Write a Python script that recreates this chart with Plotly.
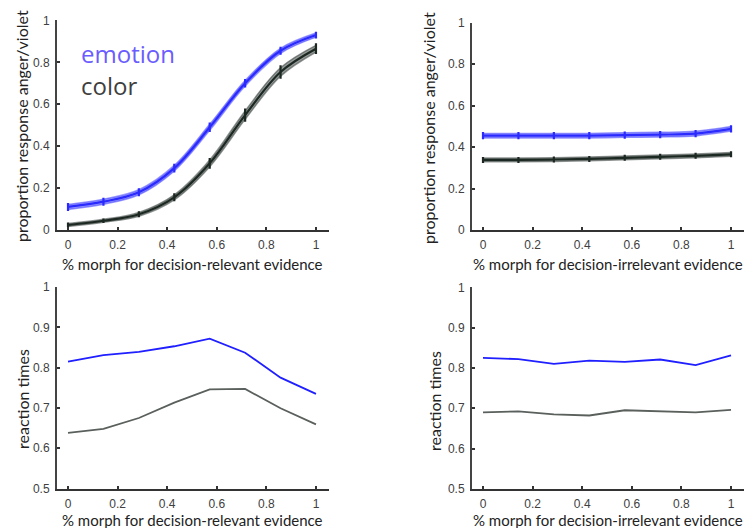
import plotly.graph_objects as go

# ---- data ----
morph = [0, 1/7, 2/7, 3/7, 4/7, 5/7, 6/7, 1]

# top-left: proportion response vs decision-relevant evidence
prop_rel_emotion = [0.11, 0.135, 0.18, 0.295, 0.49, 0.70, 0.855, 0.93]
prop_rel_color = [0.024, 0.044, 0.075, 0.156, 0.318, 0.548, 0.754, 0.865]
sem_rel_emotion = [0.012, 0.012, 0.012, 0.013, 0.014, 0.013, 0.012, 0.01]
sem_rel_color = [0.007, 0.007, 0.009, 0.012, 0.016, 0.02, 0.02, 0.016]

# top-right: proportion response vs decision-irrelevant evidence
prop_irr_emotion = [0.455, 0.455, 0.455, 0.455, 0.458, 0.46, 0.465, 0.488]
prop_irr_color = [0.338, 0.338, 0.34, 0.343, 0.348, 0.353, 0.358, 0.365]
sem_irr_emotion = [0.011] * 8
sem_irr_color = [0.009] * 8

# bottom-left: reaction times vs decision-relevant evidence
rt_rel_emotion = [0.815, 0.831, 0.839, 0.853, 0.872, 0.837, 0.775, 0.735]
rt_rel_color = [0.638, 0.648, 0.675, 0.713, 0.746, 0.747, 0.699, 0.659]

# bottom-right: reaction times vs decision-irrelevant evidence
rt_irr_emotion = [0.825, 0.822, 0.81, 0.818, 0.815, 0.821, 0.807, 0.831]
rt_irr_color = [0.690, 0.692, 0.685, 0.682, 0.695, 0.692, 0.690, 0.696]

x_ticks = [0, 0.2, 0.4, 0.6, 0.8, 1]
x_ticklabels = ["0", "0.2", "0.4", "0.6", "0.8", "1"]
prop_ticks = [0, 0.2, 0.4, 0.6, 0.8, 1]
prop_ticklabels = ["0", "0.2", "0.4", "0.6", "0.8", "1"]
rt_ticks = [0.5, 0.6, 0.7, 0.8, 0.9, 1]
rt_ticklabels = ["0.5", "0.6", "0.7", "0.8", "0.9", "1"]

BLUE = "#2a2aff"
BLUE_BAND = "rgba(70,70,255,0.55)"
DARK = "#1c2822"
DARK_BAND = "rgba(60,70,65,0.55)"

fig = go.Figure()


def banded(xa, ya, y, sem, line_color, band_color):
    upper = [v + s for v, s in zip(y, sem)]
    lower = [v - s for v, s in zip(y, sem)]
    fig.add_trace(go.Scatter(x=morph, y=upper, xaxis=xa, yaxis=ya, mode="lines",
                             line=dict(color=band_color, width=1.5, shape="spline"),
                             showlegend=False, hoverinfo="skip"))
    fig.add_trace(go.Scatter(x=morph, y=lower, xaxis=xa, yaxis=ya, mode="lines",
                             line=dict(color=band_color, width=1.5, shape="spline"),
                             fill="tonexty", fillcolor=band_color,
                             showlegend=False, hoverinfo="skip"))
    fig.add_trace(go.Scatter(x=morph, y=y, xaxis=xa, yaxis=ya, mode="lines",
                             line=dict(color=line_color, width=2.2, shape="spline"),
                             error_y=dict(type="data", array=[s * 1.6 for s in sem],
                                          color=line_color, thickness=2.2, width=0),
                             showlegend=False))


banded("x", "y", prop_rel_emotion, sem_rel_emotion, BLUE, BLUE_BAND)
banded("x", "y", prop_rel_color, sem_rel_color, DARK, DARK_BAND)
banded("x2", "y2", prop_irr_emotion, sem_irr_emotion, BLUE, BLUE_BAND)
banded("x2", "y2", prop_irr_color, sem_irr_color, DARK, DARK_BAND)

fig.add_trace(go.Scatter(x=morph, y=rt_rel_emotion, xaxis="x3", yaxis="y3", mode="lines",
                         line=dict(color="#1f1fff", width=1.8), showlegend=False))
fig.add_trace(go.Scatter(x=morph, y=rt_rel_color, xaxis="x3", yaxis="y3", mode="lines",
                         line=dict(color="#5a605c", width=1.8), showlegend=False))
fig.add_trace(go.Scatter(x=morph, y=rt_irr_emotion, xaxis="x4", yaxis="y4", mode="lines",
                         line=dict(color="#1f1fff", width=1.8), showlegend=False))
fig.add_trace(go.Scatter(x=morph, y=rt_irr_color, xaxis="x4", yaxis="y4", mode="lines",
                         line=dict(color="#5a605c", width=1.8), showlegend=False))

tickfont = dict(family="Liberation Sans", size=12, color="#404040")
xr = [-0.0444, 1.0524]


def xax(domain, anchor):
    return dict(domain=domain, anchor=anchor, range=xr, tickvals=x_ticks,
                ticktext=x_ticklabels, showline=True, linecolor="#333333", linewidth=2,
                ticks="inside", ticklen=3, tickwidth=2, tickcolor="#333333",
                showgrid=False, zeroline=False, tickfont=tickfont,
                ticklabelstandoff=3, automargin=False)


def yax(domain, anchor, rng, tv, tt):
    return dict(domain=domain, anchor=anchor, range=rng, tickvals=tv, ticktext=tt,
                showline=True, linecolor="#444444", linewidth=2,
                ticks="inside", ticklen=3, tickwidth=2, tickcolor="#333333",
                showgrid=False, zeroline=False, tickfont=tickfont,
                ticklabelstandoff=3, automargin=False)


fig.update_layout(
    width=748, height=528,
    margin=dict(l=0, r=0, t=0, b=0),
    paper_bgcolor="white", plot_bgcolor="white",
    showlegend=False,
    xaxis=xax([0.0762, 0.4398], "y"),
    xaxis2=xax([0.631, 0.9947], "y2"),
    xaxis3=xax([0.0762, 0.4398], "y3"),
    xaxis4=xax([0.631, 0.9947], "y4"),
    yaxis=yax([0.5644, 0.9614], "x", [0, 1], prop_ticks, prop_ticklabels),
    yaxis2=yax([0.5644, 0.957], "x2", [0, 1], prop_ticks, prop_ticklabels),
    yaxis3=yax([0.0748, 0.4564], "x3", [0.5, 1], rt_ticks, rt_ticklabels),
    yaxis4=yax([0.0742, 0.4557], "x4", [0.5, 1], rt_ticks, rt_ticklabels),
)

title_font = dict(family="Lato", size=15, color="#222222")
ytitle_font = dict(family="Lato", size=16, color="#222222")
ann = []
# y titles
for x, y, t in [(0.0294, 0.7614, "proportion response anger/violet"),
                (0.5735, 0.7576, "proportion response anger/violet"),
                (0.0294, 0.2443, "reaction times"),
                (0.5802, 0.2405, "reaction times")]:
    ann.append(dict(x=x, y=y, xref="paper", yref="paper", text=t, showarrow=False,
                    textangle=-90, font=ytitle_font, xanchor="center", yanchor="middle"))
# x titles
for x, y, t in [(0.2567, 0.5000, "% morph for decision-relevant evidence"),
                (0.8135, 0.5000, "% morph for decision-irrelevant evidence"),
                (0.2567, 0.0155, "% morph for decision-relevant evidence"),
                (0.8135, 0.0155, "% morph for decision-irrelevant evidence")]:
    ann.append(dict(x=x, y=y, xref="paper", yref="paper", text=t, showarrow=False,
                    font=title_font, xanchor="center", yanchor="middle"))
# in-plot labels
ann.append(dict(x=0.105, y=0.899, xref="paper", yref="paper", text="emotion",
                showarrow=False, xanchor="left", yanchor="middle",
                font=dict(family="Open Sans", size=24, color="#6a5cff")))
ann.append(dict(x=0.105, y=0.838, xref="paper", yref="paper", text="color",
                showarrow=False, xanchor="left", yanchor="middle",
                font=dict(family="Open Sans", size=24, color="#3f3f3f")))
fig.update_layout(annotations=ann)

fig.write_html("out.html",
               config={"displayModeBar": False},
               post_script="document.body.style.margin='0';document.body.style.overflow='hidden';")
